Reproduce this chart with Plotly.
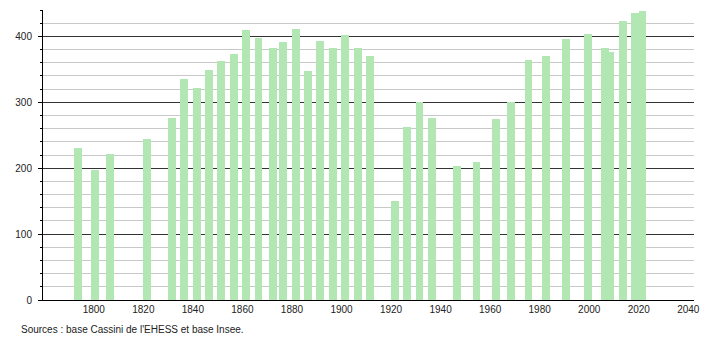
import plotly.graph_objects as go

years = [1793, 1800, 1806, 1821, 1831, 1836, 1841, 1846, 1851, 1856, 1861, 1866,
         1872, 1876, 1881, 1886, 1891, 1896, 1901, 1906, 1911, 1921, 1926, 1931,
         1936, 1946, 1954, 1962, 1968, 1975, 1982, 1990, 1999, 2006, 2008, 2013,
         2018, 2021]
population = [230, 197, 221, 245, 276, 335, 321, 349, 362, 373, 409, 397,
              382, 391, 411, 347, 393, 382, 402, 382, 370, 150, 262, 301,
              276, 203, 209, 275, 300, 364, 370, 396, 403, 382, 376, 423,
              435, 438]
x_ticks = [1800, 1820, 1840, 1860, 1880, 1900, 1920, 1940, 1960, 1980, 2000, 2020, 2040]
y_ticks = [0, 100, 200, 300, 400]
source_text = "Sources : base Cassini de l'EHESS et base Insee."

FONT = "Liberation Sans, Arial, sans-serif"

fig = go.Figure()
fig.add_trace(go.Bar(
    x=years, y=population,
    width=3.2, offset=-1.1,
    marker=dict(color="rgb(178,230,178)", line=dict(width=0)),
    hoverinfo="x+y",
))

fig.update_layout(
    width=710, height=340,
    margin=dict(l=43, r=10, t=10, b=40),
    paper_bgcolor="white", plot_bgcolor="white",
    font=dict(family=FONT, size=10, color="#222"),
    showlegend=False,
    xaxis=dict(
        range=[1779.5, 2042.3],
        tickmode="array", tickvals=x_ticks,
        showgrid=False, zeroline=False,
        showline=True, linecolor="black", linewidth=1,
        ticks="", tickfont=dict(size=10, color="#222"),
        ticklabelstandoff=0,
    ),
    yaxis=dict(
        range=[0, 440],
        tickmode="array", tickvals=y_ticks,
        showgrid=True, gridcolor="#333", gridwidth=1,
        zeroline=False,
        showline=True, linecolor="black", linewidth=1,
        ticks="outside", ticklen=4, tickcolor="black",
        tickfont=dict(size=10, color="#222"),
        ticklabelstandoff=4,
        minor=dict(dtick=20, tick0=0, showgrid=True, gridcolor="#c8c8c8",
                   gridwidth=1, ticks="outside", ticklen=2, tickcolor="black"),
    ),
    bargap=0,
)

fig.add_annotation(
    text=source_text, xref="paper", yref="paper",
    x=(19 - 43) / 657, y=-29 / 290, xanchor="left", yanchor="middle",
    showarrow=False, font=dict(family=FONT, size=10, color="#222"),
)

fig.write_html("out.html")
